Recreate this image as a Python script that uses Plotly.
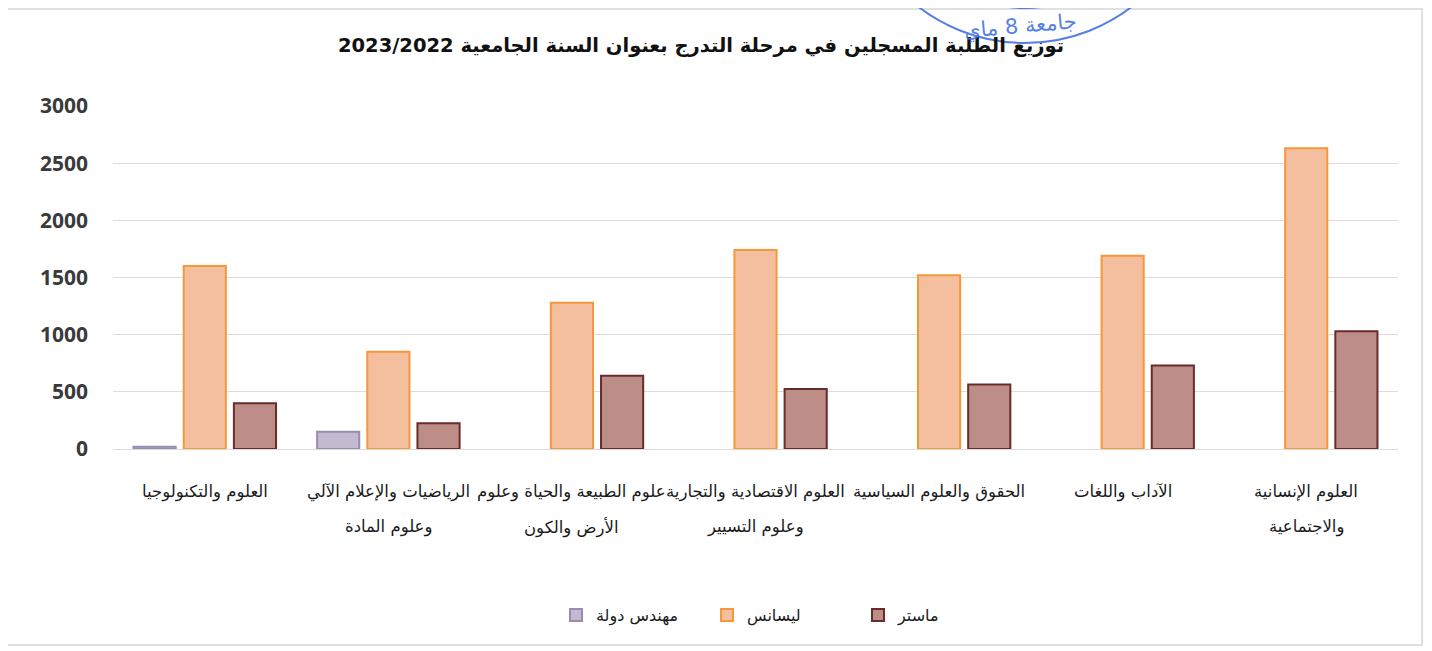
import plotly.graph_objects as go

# categories (left to right as drawn), each label split on two lines
categories = [
    "العلوم والتكنولوجيا",
    "الرياضيات والإعلام الآلي وعلوم المادة",
    "علوم الطبيعة والحياة وعلوم الأرض والكون",
    "العلوم الاقتصادية والتجارية وعلوم التسيير",
    "الحقوق والعلوم السياسية",
    "الآداب واللغات",
    "العلوم الإنسانية والاجتماعية",
]
label_line1 = [
    "العلوم والتكنولوجيا",
    "الرياضيات والإعلام الآلي",
    "علوم الطبيعة والحياة وعلوم",
    "العلوم الاقتصادية والتجارية",
    "الحقوق والعلوم السياسية",
    "الآداب واللغات",
    "العلوم الإنسانية",
]
label_line2 = ["", "وعلوم المادة", "الأرض والكون", "وعلوم التسيير", "", "", "والاجتماعية"]

engineer = [20, 150, 0, 0, 0, 0, 0]
licence = [1600, 850, 1280, 1740, 1520, 1690, 2630]
master = [400, 225, 640, 525, 565, 730, 1030]

series_names = ["مهندس دولة", "ليسانس", "ماستر"]
y_ticks = [0, 500, 1000, 1500, 2000, 2500, 3000]

title = "توزيع الطلبة المسجلين في مرحلة التدرج بعنوان السنة الجامعية 2023/2022"

fills = ["#c3bad2", "#f3bf9f", "#bd8d88"]
borders = ["#978cb3", "#f7973a", "#6a2b2b"]

# the page adds an 8px body margin, so the figure is a bit smaller than the window
OFF = 8
W, H = 1432 - OFF, 651 - OFF
L, R, T, B = 113 - OFF, 1432 - 1398, 106 - OFF, 651 - 449


def px(x):
    # page pixel -> paper x
    return (x - OFF - L) / (W - L - R)


def py(y):
    # page pixel -> paper y
    return (H - B - (y - OFF)) / (H - T - B)


label_font = dict(size=16.5, color="#1a1a1a", family="DejaVu Sans")

fig = go.Figure()
for name, vals, fc, lc in zip(series_names, [engineer, licence, master], fills, borders):
    fig.add_trace(go.Bar(
        x=list(range(len(categories))),
        y=vals,
        name=name,
        marker=dict(color=fc, line=dict(color=lc, width=[2 if v else 0 for v in vals])),
        hovertext=categories,
    ))

# category labels, two lines each
for i, (a, b) in enumerate(zip(label_line1, label_line2)):
    fig.add_annotation(x=i, xref="x", y=py(492), yref="paper", yanchor="middle",
                       text=a, showarrow=False, font=label_font)
    if b:
        fig.add_annotation(x=i, xref="x", y=py(527), yref="paper", yanchor="middle",
                           text=b, showarrow=False, font=label_font)

# outer frame of the scanned chart
fig.add_shape(type="rect", xref="paper", yref="paper",
              x0=px(4), x1=px(1422), y0=py(645), y1=py(9),
              line=dict(color="#d6d6d6", width=1.5), layer="below")

# stamp in the top corner
for r in (175, 140):
    fig.add_shape(type="circle", xref="paper", yref="paper",
                  x0=px(1025 - r), x1=px(1025 + r), y0=py(-132 + r), y1=py(-132 - r),
                  line=dict(color="rgba(55,105,225,0.85)", width=2))
fig.add_annotation(x=px(1020), xref="paper", xanchor="center", y=py(26), yref="paper", yanchor="middle",
                   text="جامعة 8 ماي", showarrow=False, textangle=-5,
                   font=dict(size=21, color="rgba(55,105,225,0.85)", family="DejaVu Sans"))

fig.update_layout(
    width=W, height=H,
    margin=dict(l=L, r=R, t=T, b=B),
    paper_bgcolor="white",
    plot_bgcolor="white",
    barmode="group",
    bargap=0.18,
    bargroupgap=0.16,
    showlegend=True,
    legend=dict(orientation="h", x=px(556), xanchor="left", y=py(615), yanchor="middle",
                entrywidth=106, entrywidthmode="pixels",
                font=dict(size=16, color="#1a1a1a", family="DejaVu Sans"),
                itemclick=False, itemdoubleclick=False),
    title=dict(text="<b>" + title + "</b>", x=(701 - OFF) / W, xref="container", xanchor="center",
               y=1 - (45 - OFF) / H, yanchor="middle",
               font=dict(size=19.5, color="#111111", family="DejaVu Sans")),
    xaxis=dict(showticklabels=False, showgrid=False, zeroline=False, showline=False,
               range=[-0.5, len(categories) - 0.5]),
    yaxis=dict(range=[0, 3000], tickvals=y_ticks, gridcolor="#dcdcdc", gridwidth=1,
               zeroline=True, zerolinecolor="#dcdcdc", zerolinewidth=1,
               ticklabelstandoff=24,
               tickfont=dict(size=21, color="#3a3a3a", family="Open Sans", weight="bold")),
)

fig.write_html("out.html")
